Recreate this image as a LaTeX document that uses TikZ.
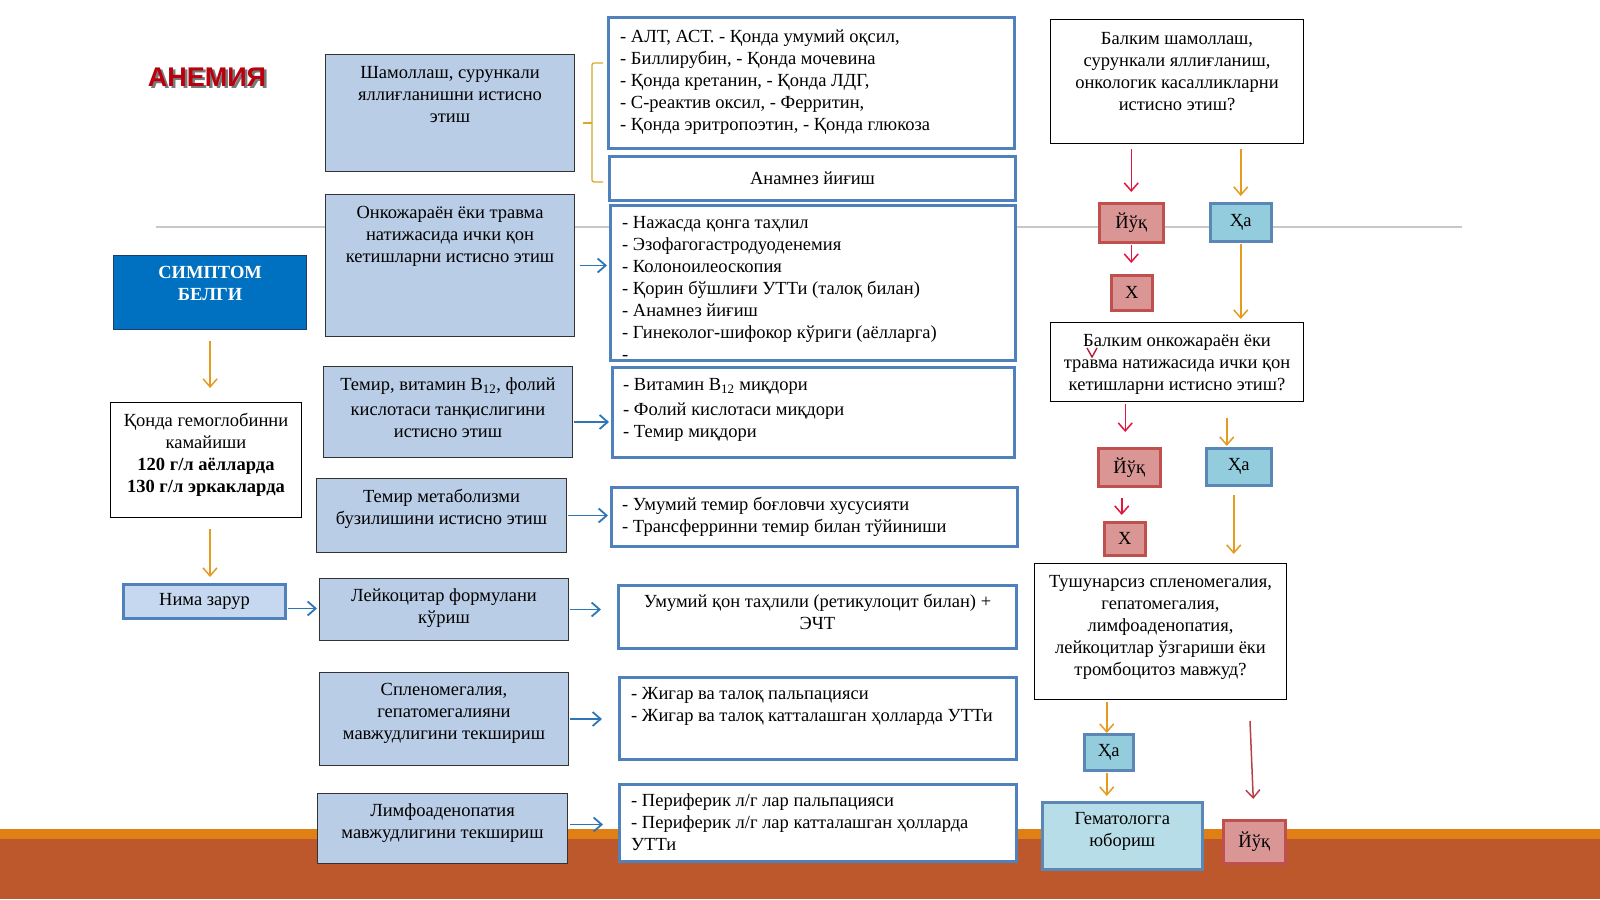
\documentclass[tikz,border=0pt]{standalone}
\usepackage{fontspec}
\setmainfont{Liberation Serif}
\newfontfamily\headfont{Liberation Sans}
\usetikzlibrary{arrows.meta}
\newcommand\myfs{\fontsize{18.5}{22}\selectfont}
\definecolor{lbfill}{HTML}{BACDE6}
\definecolor{mbdraw}{HTML}{4F81BD}
\definecolor{nimafill}{HTML}{C6D8EF}
\definecolor{simfill}{HTML}{0070C0}
\definecolor{simdraw}{HTML}{1B3F6A}
\definecolor{nofill}{HTML}{D99694}
\definecolor{nodraw}{HTML}{C0504D}
\definecolor{yesfill}{HTML}{93CDDD}
\definecolor{yesdraw}{HTML}{5A87B5}
\definecolor{hemfill}{HTML}{B7DEE8}
\definecolor{redarrc}{HTML}{E3173E}
\definecolor{orarrc}{HTML}{E59B1F}
\definecolor{bluarrc}{HTML}{2E75B6}
\definecolor{darkredc}{HTML}{B8404A}
\definecolor{bracec}{HTML}{D6AA2C}
\definecolor{bandtop}{HTML}{DF7F15}
\definecolor{bandc}{HTML}{BD582C}
\definecolor{titlered}{HTML}{B8000E}
\definecolor{linegray}{HTML}{C8C8C8}
\tikzset{
  every node/.style={font=\myfs},
  lbox/.style={draw=black!80, line width=1pt, fill=lbfill},
  mbox/.style={draw=mbdraw, line width=3pt, fill=white},
  wbox/.style={draw=black, line width=1pt, fill=white},
  nimabox/.style={draw=mbdraw, line width=3pt, fill=nimafill},
  simbox/.style={draw=simdraw, line width=1.2pt, fill=simfill, text=white, font=\myfs\bfseries},
  nobox/.style={draw=nodraw, line width=2.5pt, fill=nofill},
  yesbox/.style={draw=yesdraw, line width=2.5pt, fill=yesfill},
  hembox/.style={draw=yesdraw, line width=2.5pt, fill=hemfill},
  ctext/.style={anchor=north, align=center, inner sep=0pt},
  ltext/.style={anchor=north west, align=left, inner sep=0pt},
  arr/.style={line width=1.5pt, -{Straight Barb[length=8pt,width=14pt]}},
  redarr/.style={arr, draw=redarrc},
  orarr/.style={arr, draw=orarrc},
  bluarr/.style={arr, draw=bluarrc, line width=1.8pt},
  darkarr/.style={arr, draw=darkredc},
}
% box: name, style, x1, y1, x2, y2
\newcommand\bx[6]{\node[#2, anchor=north west, minimum width={#5-#3}, minimum height={#6-#4}, inner sep=0pt] (#1) at (#3,#4) {};}
\newcommand\bxt[7]{\node[#2, anchor=north west, minimum width={#5-#3}, minimum height={#6-#4}, inner sep=0pt] (#1) at (#3,#4) {#7};}
\begin{document}
\begin{tikzpicture}[x=1pt,y=-1pt]
\useasboundingbox (0,0) rectangle (1600,899);
\fill[white] (0,0) rectangle (1600,899);
% bottom band
\fill[bandtop] (0,829) rectangle (1600,840);
\fill[bandc] (0,839) rectangle (1600,899);
% gray rule
\draw[linegray, line width=1.5pt] (156,227) -- (1462,227);

% title
\node[font=\headfont\bfseries\fontsize{27}{30}\selectfont, text=black!80, opacity=0.65] (titleshadow) at (209.5,79.5) {АНЕМИЯ};
\node[font=\headfont\bfseries\fontsize{27}{30}\selectfont, text=titlered] (title) at (207,77) {АНЕМИЯ};

% left column
\bx{sham}{lbox}{325}{54}{574}{171}
\node[ctext] (shamt) at ([yshift=-9pt]sham.north) {\strut Шамоллаш, сурункали\\яллиғланишни истисно\\этиш};
\bx{onko}{lbox}{325}{194}{574}{336}
\node[ctext] (onkot) at ([yshift=-9pt]onko.north) {\strut Онкожараён ёки травма\\натижасида ички қон\\кетишларни истисно этиш};
\bx{temir}{lbox}{323}{366}{572}{457}
\node[ctext] (temirt) at ([yshift=-9pt]temir.north) {\strut Темир, витамин В\textsubscript{12}, фолий\\[3pt]кислотаси танқислигини\\истисно этиш};
\bx{metab}{lbox}{316}{478}{566}{552}
\node[ctext] (metabt) at ([yshift=-9pt]metab.north) {\strut Темир метаболизми\\бузилишини истисно этиш};
\bx{leyk}{lbox}{319}{578}{568}{640}
\node[ctext] (leykt) at ([yshift=-8pt]leyk.north) {\strut Лейкоцитар формулани\\кўриш};
\bx{splen}{lbox}{319}{672}{568}{765}
\node[ctext] (splent) at ([yshift=-8pt]splen.north) {\strut Спленомегалия,\\гепатомегалияни\\мавжудлигини текшириш};
\bx{limfo}{lbox}{317}{793}{567}{863}
\node[ctext] (limfot) at ([yshift=-8pt]limfo.north) {\strut Лимфоаденопатия\\мавжудлигини текшириш};

% far left
\bx{sim}{simbox}{113}{255}{306}{329}
\node[ctext, text=white, font=\myfs\bfseries] (simt) at ([yshift=-8pt]sim.north) {\strut СИМПТОМ\\БЕЛГИ};
\bx{qonda}{wbox}{110}{402}{301}{517}
\node[ctext] (qondat) at ([yshift=-8.5pt]qonda.north) {\strut Қонда гемоглобинни\\камайиши\\\textbf{120 г/л аёлларда}\\\textbf{130 г/л эркакларда}};
\bxt{nima}{nimabox}{122}{583}{284}{617}{Нима зарур}

% middle column
\bx{t1}{mbox}{607}{16}{1013}{147}
\node[ltext] (t1t) at ([xshift=13pt,yshift=-10.5pt]t1.north west) {\strut - АЛТ, АСТ. - Қонда умумий оқсил,\\- Биллирубин, - Қонда мочевина\\- Қонда кретанин, - Қонда ЛДГ,\\- С-реактив оксил, - Ферритин,\\- Қонда эритропоэтин, - Қонда глюкоза};
\bxt{anam}{mbox}{608}{155}{1014}{199}{Анамнез йиғиш}
\bx{t3}{mbox}{609}{204}{1014}{359}
\node[ltext] (t3t) at ([xshift=13pt,yshift=-9pt]t3.north west) {\strut - Нажасда қонга таҳлил\\- Эзофагогастродуоденемия\\- Колоноилеоскопия\\- Қорин бўшлиғи УТТи (талоқ билан)\\- Анамнез йиғиш\\- Гинеколог-шифокор кўриги (аёлларга)\\-};
\bx{t4}{mbox}{611}{366}{1013}{456}
\node[ltext] (t4t) at ([xshift=12pt,yshift=-9pt]t4.north west) {\strut - Витамин В\textsubscript{12} миқдори\\[3pt]- Фолий кислотаси миқдори\\- Темир миқдори};
\bx{t5}{mbox}{610}{486}{1016}{545}
\node[ltext] (t5t) at ([xshift=12pt,yshift=-9pt]t5.north west) {\strut - Умумий темир боғловчи хусусияти\\- Трансферринни темир билан тўйиниши};
\bx{t6}{mbox}{617}{584}{1015}{647}
\node[ctext] (t6t) at ([yshift=-8pt]t6.north) {\strut Умумий қон таҳлили (ретикулоцит билан) +\\ЭЧТ};
\bx{t7}{mbox}{618}{676}{1015}{758}
\node[ltext] (t7t) at ([xshift=13pt,yshift=-8pt]t7.north west) {\strut - Жигар ва талоқ пальпацияси\\- Жигар ва талоқ катталашган ҳолларда УТТи};
\bx{t8}{mbox}{618}{783}{1015}{860}
\node[ltext] (t8t) at ([xshift=13pt,yshift=-8pt]t8.north west) {\strut - Периферик л/г лар пальпацияси\\- Периферик л/г лар катталашган ҳолларда\\УТТи};

% right column
\bx{b1}{wbox}{1050}{19}{1303}{143}
\node[ctext] (b1t) at ([yshift=-9.5pt]b1.north) {\strut Балким шамоллаш,\\сурункали яллиғланиш,\\онкологик касалликларни\\истисно этиш?};
\bxt{y1}{nobox}{1098}{202}{1162}{241}{Йўқ}
\bxt{h1}{yesbox}{1209}{202}{1270}{240}{Ҳа}
\bxt{x1}{nobox}{1110}{274}{1151}{309}{Х}
\bx{b2}{wbox}{1050}{322}{1303}{401}
\node[ctext] (b2t) at ([yshift=-8.5pt]b2.north) {\strut Балким онкожараён ёки\\травма натижасида ички қон\\кетишларни истисно этиш?};
\bxt{y2}{nobox}{1097}{447}{1159}{485}{Йўқ}
\bxt{h2}{yesbox}{1205}{447}{1270}{484}{Ҳа}
\bxt{x2}{nobox}{1103}{521}{1144}{554}{Х}
\bx{b3}{wbox}{1034}{563}{1286}{699}
\node[ctext] (b3t) at ([yshift=-9pt]b3.north) {\strut Тушунарсиз спленомегалия,\\гепатомегалия,\\лимфоаденопатия,\\лейкоцитлар ўзгариши ёки\\тромбоцитоз мавжуд?};
\bxt{h3}{yesbox}{1083}{733}{1132}{769}{Ҳа}
\bx{hem}{hembox}{1041}{801}{1201}{868}
\node[ctext] (hemt) at ([yshift=-8pt]hem.north) {\strut Гематологга\\юбориш};
\bxt{y3}{nobox}{1222}{819}{1284}{862}{Йўқ}

% brace
\draw[bracec, line width=1.3pt, rounded corners=2pt] (603,63) -- (592,63) -- (592,182) -- (603,182);
\draw[bracec, line width=1.3pt] (583,123) -- (592,123);

% blue arrows
\draw[bluarr, shorten <=5pt, shorten >=2pt] (onko.east) -- (onko.east -| t3.west);
\draw[bluarr, shorten <=1pt, shorten >=2pt] ([yshift=-10pt]temir.east) -- ([yshift=-10pt]temir.east -| t4.west);
\draw[bluarr, shorten <=1pt, shorten >=2pt] (metab.east) -- (metab.east -| t5.west);
\draw[bluarr, shorten <=1pt, shorten >=2pt] ([yshift=-7pt]nima.east) -- ([yshift=-7pt]nima.east -| leyk.west);
\draw[bluarr, shorten <=1pt, shorten >=16pt] (leyk.east) -- (leyk.east -| t6.west);
\draw[bluarr, shorten <=1pt, shorten >=16pt] (splen.east) -- (splen.east -| t7.west);
\draw[bluarr, shorten <=2pt, shorten >=15pt] ([yshift=4pt]limfo.east) -- ([yshift=4pt]limfo.east -| t8.west);

% left vertical arrows
\draw[orarr, shorten <=11pt, shorten >=14pt] (sim.south) -- (sim.south |- qonda.north);
\draw[orarr, shorten <=11pt, shorten >=6pt] ([xshift=4pt]qonda.south) -- ([xshift=4pt]qonda.south |- nima.north);

% right arrows
\draw[redarr, shorten <=5pt, shorten >=10pt] (b1.south -| y1) -- (y1.north);
\draw[orarr, shorten <=5pt, shorten >=6pt] (b1.south -| h1) -- (h1.north);
\draw[redarr, shorten <=1pt, shorten >=11pt] (y1.south) -- (y1.south |- x1.north);
\draw[orarr, shorten <=1pt, shorten >=3pt] (h1.south) -- (h1.south |- b2.north);
\draw[redarr, shorten <=2pt, shorten >=15pt] ([xshift=-4pt]b2.south -| y2) -- ([xshift=-4pt]y2.north);
\draw[orarr, shorten <=16pt, shorten >=1pt] ([xshift=-12pt]b2.south -| h2) -- ([xshift=-12pt]h2.north);
\draw[redarr, shorten <=10pt, shorten >=6pt] ([xshift=-3pt]x2.north |- y2.south) -- ([xshift=-3pt]x2.north);
\draw[orarr, shorten <=8pt, shorten >=9pt] ([xshift=-5pt]h2.south) -- ([xshift=-5pt]h2.south |- b3.north);
\draw[orarr, shorten <=2pt] ([xshift=-2pt]h3.north |- b3.south) -- ([xshift=-2pt]h3.north);
\draw[orarr, shorten <=1pt, shorten >=5pt] ([xshift=-2pt]h3.south) -- ([xshift=-2pt]h3.south |- hem.north);
\coordinate (r3) at (1250,721);
\draw[darkarr] (r3) -- ([yshift=20pt,xshift=-1pt]y3.north);
% stray arrow tip in second question box
\coordinate (stray) at (1092,357);
\draw[redarrc!80!black, line width=1.3pt] (1087,348) -- (stray) -- (1097,348);
\end{tikzpicture}
\end{document}
